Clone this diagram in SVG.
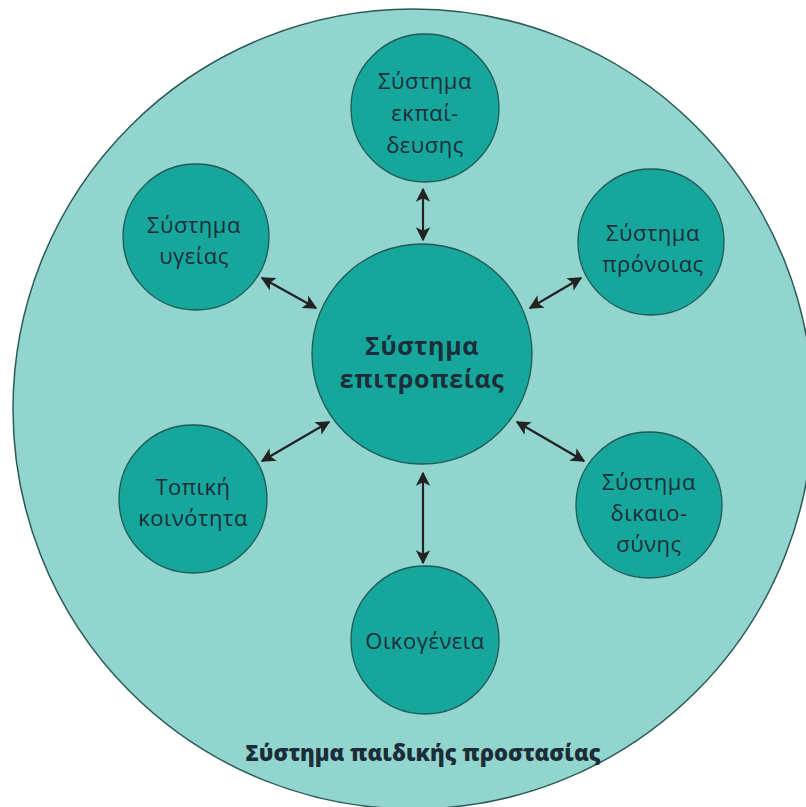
<svg xmlns="http://www.w3.org/2000/svg" width="806" height="807" viewBox="0 0 806 807">
<defs>
<style>
.outer{fill:#92d5ce;stroke:#2a5a56;stroke-width:1.5}
.node{fill:#17a69c;stroke:#1d5a55;stroke-width:1.3}
.lbl{font-family:"Open Sans","Noto Sans","DejaVu Sans",sans-serif;font-size:22px;font-weight:500;fill:#1b2d38;text-anchor:middle;letter-spacing:0.5px}
.ctr{font-family:"Open Sans","Noto Sans","DejaVu Sans",sans-serif;font-size:25px;font-weight:bold;fill:#1b2d38;text-anchor:middle;letter-spacing:0.6px}
.title{font-family:"Open Sans","Noto Sans","DejaVu Sans",sans-serif;font-size:22px;font-weight:800;fill:#1b2d38;text-anchor:middle}
.arr{stroke:#222;stroke-width:2.2;fill:none;marker-start:url(#ah);marker-end:url(#ah)}
</style>
<marker id="ah" viewBox="0 0 10 10" refX="9" refY="5" markerWidth="6.5" markerHeight="6.5" orient="auto-start-reverse" markerUnits="strokeWidth">
<path d="M0,0 L10,5 L0,10 L2.5,5 Z" fill="#222"/>
</marker>
</defs>
<rect width="806" height="807" fill="#ffffff"/>
<g id="outer">
<circle class="outer" cx="413" cy="409" r="400"/>
<text class="title" x="423" y="761">Σύστημα παιδικής προστασίας</text>
</g>
<g id="connectors">
<line class="arr" x1="423" y1="189" x2="423" y2="240"/>
<line class="arr" x1="262" y1="278" x2="316" y2="308"/>
<line class="arr" x1="581" y1="278" x2="530" y2="308"/>
<line class="arr" x1="262" y1="461" x2="329" y2="422"/>
<line class="arr" x1="517" y1="422" x2="584" y2="461"/>
<line class="arr" x1="423" y1="473" x2="423" y2="563"/>
</g>
<g id="center">
<circle class="node" cx="422" cy="354" r="110"/>
<text class="ctr" x="422" y="355">Σύστημα</text>
<text class="ctr" x="422" y="388">επιτροπείας</text>
</g>
<g id="education">
<circle class="node" cx="425" cy="108" r="74"/>
<text class="lbl" x="425" y="89">Σύστημα</text>
<text class="lbl" x="425" y="121">εκπαί-</text>
<text class="lbl" x="425" y="153">δευσης</text>
</g>
<g id="health">
<circle class="node" cx="196" cy="237" r="73"/>
<text class="lbl" x="194" y="233">Σύστημα</text>
<text class="lbl" x="194" y="264">υγείας</text>
</g>
<g id="welfare">
<circle class="node" cx="651" cy="242" r="73"/>
<text class="lbl" x="653" y="241">Σύστημα</text>
<text class="lbl" x="653" y="272">πρόνοιας</text>
</g>
<g id="community">
<circle class="node" cx="193" cy="499" r="74"/>
<text class="lbl" x="193" y="495">Τοπική</text>
<text class="lbl" x="193" y="526">κοινότητα</text>
</g>
<g id="justice">
<circle class="node" cx="649" cy="505" r="73"/>
<text class="lbl" x="649" y="490">Σύστημα</text>
<text class="lbl" x="649" y="521">δικαιο-</text>
<text class="lbl" x="649" y="552">σύνης</text>
</g>
<g id="family">
<circle class="node" cx="425" cy="640" r="74"/>
<text class="lbl" x="425" y="649">Οικογένεια</text>
</g>
</svg>
